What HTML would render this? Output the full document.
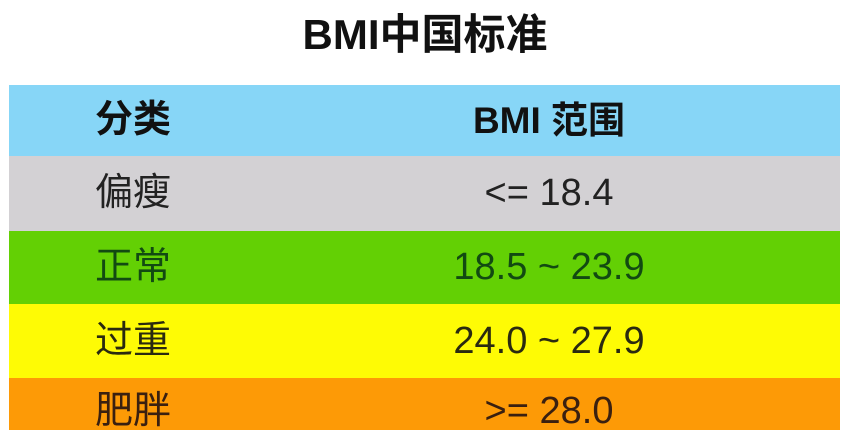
<!DOCTYPE html>
<html><head><meta charset="utf-8"><style>
body{margin:0;width:850px;height:434px;background:#fff;overflow:hidden;font-family:"Liberation Sans","Noto Sans CJK SC",sans-serif;position:relative}
.title{position:absolute;left:0;width:850px;top:10px;text-align:center;font-weight:bold;font-size:42px;color:#111;line-height:50px}
.row{position:absolute;left:9px;width:831px}
.c1{position:absolute;left:86px;font-size:38px}
.c2{position:absolute;left:340px;width:400px;text-align:center;font-size:38px}
</style></head><body>
<div class="title">BMI中国标准</div>
<div class="row" style="top:85px;height:71px;background:#87d6f7;color:#111;font-weight:bold;line-height:71px">
<span class="c1">分类</span><span class="c2" style="font-size:37px">BMI 范围</span></div>
<div class="row" style="top:156px;height:75px;background:#d3d1d4;color:#222;line-height:75px">
<span class="c1">偏瘦</span><span class="c2">&lt;= 18.4</span></div>
<div class="row" style="top:231px;height:73px;background:#63d004;color:#124a12;line-height:73px">
<span class="c1">正常</span><span class="c2">18.5 ~ 23.9</span></div>
<div class="row" style="top:304px;height:74px;background:#fefb05;color:#2a2a10;line-height:74px">
<span class="c1">过重</span><span class="c2">24.0 ~ 27.9</span></div>
<div class="row" style="top:378px;height:52px;background:#fd9a06;color:#3a2010;line-height:66px;overflow:hidden">
<span class="c1">肥胖</span><span class="c2">&gt;= 28.0</span></div>
</body></html>
